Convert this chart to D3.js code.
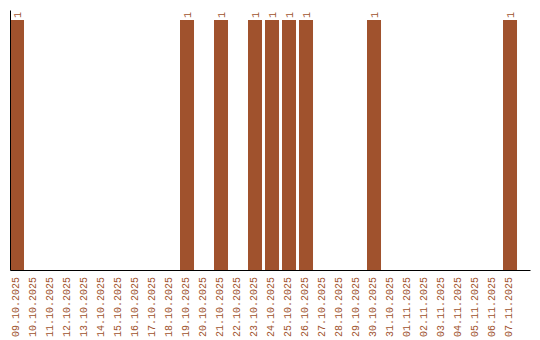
<!DOCTYPE html>
<html>
<head>
<meta charset="utf-8">
<script src="https://cdn.jsdelivr.net/npm/d3@7"></script>
<style>
  body { margin: 0; background: #fff; }
  text { font-family: "Liberation Mono", monospace; font-size: 10px; }
</style>
</head>
<body>
<script>
// one bar per day
var days = ["09.10.2025","10.10.2025","11.10.2025","12.10.2025","13.10.2025","14.10.2025",
            "15.10.2025","16.10.2025","17.10.2025","18.10.2025","19.10.2025","20.10.2025",
            "21.10.2025","22.10.2025","23.10.2025","24.10.2025","25.10.2025","26.10.2025",
            "27.10.2025","28.10.2025","29.10.2025","30.10.2025","31.10.2025","01.11.2025",
            "02.11.2025","03.11.2025","04.11.2025","05.11.2025","06.11.2025","07.11.2025"];
var counts = [1,0,0,0,0,0,0,0,0,0,1,0,1,0,1,1,1,1,0,0,0,1,0,0,0,0,0,0,0,1];

var w = 540;
var h = 340;
var barColor = "#a0522d";

var svg = d3.select("body")
            .append("svg")
            .attr("width", w)
            .attr("height", h);

//x scale, extra room left over on the right
var x = d3.scaleBand()
          .domain(days)
          .range([10, 530])
          .paddingInner(3 / 17)
          .paddingOuter(0.382)
          .align(0);

var y = d3.scaleLinear()
          .domain([0, 1.04])
          .range([270, 10]);

var data = days.map(function(d, i) { return { day: d, value: counts[i] }; });

svg.selectAll("rect.bar")
   .data(data.filter(function(d) { return d.value > 0; }))
   .enter()
   .append("rect")
   .attr("class", "bar")
   .attr("x", function(d) { return x(d.day); })
   .attr("y", function(d) { return y(d.value); })
   .attr("width", x.bandwidth())
   .attr("height", function(d) { return y(0) - y(d.value); })
   .attr("fill", barColor);

// value labels on top of the bars
svg.selectAll("text.val")
   .data(data.filter(function(d) { return d.value > 0; }))
   .enter()
   .append("text")
   .attr("class", "val")
   .attr("transform", function(d) {
       return "translate(" + (x(d.day) + x.bandwidth() / 2) + "," + (y(d.value) - 2) + ") rotate(-90)";
   })
   .attr("dy", "0.35em")
   .attr("fill", barColor)
   .text(function(d) { return d.value; });

// y axis: just the line
svg.append("g")
   .attr("transform", "translate(10,0)")
   .call(d3.axisLeft(y).tickValues([]).tickSizeOuter(0))
   .select(".domain")
   .attr("stroke", "#000");

// x axis with rotated date labels
var xAxis = svg.append("g")
   .attr("transform", "translate(0,270)")
   .call(d3.axisBottom(x).tickSize(0).tickSizeOuter(0));

xAxis.select(".domain").attr("stroke", "#000");

xAxis.selectAll(".tick text")
     .attr("font-family", null)
     .attr("font-size", null)
     .attr("fill", barColor)
     .attr("text-anchor", "end")
     .attr("transform", "rotate(-90)")
     .attr("x", -7)
     .attr("y", 0)
     .attr("dy", "0.15em");
</script>
</body>
</html>
